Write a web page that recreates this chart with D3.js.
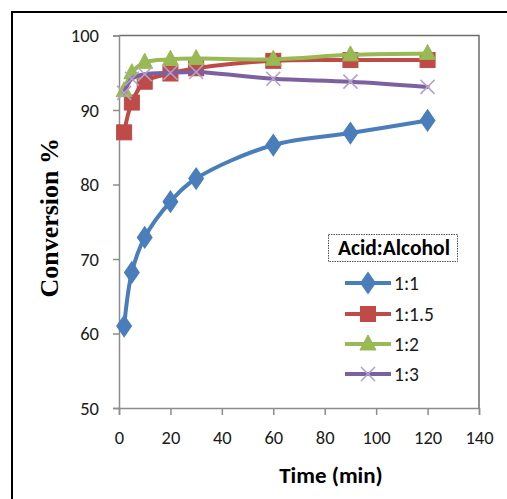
<!DOCTYPE html>
<html><head><meta charset="utf-8">
<script src="https://cdn.jsdelivr.net/npm/d3@7"></script>
<style>
html,body{margin:0;padding:0;background:#fff;}
svg{display:block;}
</style></head>
<body>
<script>
const time = [2, 5, 10, 20, 30, 60, 90, 120];
const ratio11 = [61.0, 68.2, 72.9, 77.7, 80.8, 85.3, 86.9, 88.6];
const ratio115 = [87.0, 91.0, 93.8, 94.9, 95.6, 96.6, 96.7, 96.7];
const ratio12 = [92.6, 95.0, 96.4, 96.8, 96.9, 96.8, 97.4, 97.6];
const ratio13 = [92.3, 94.2, 94.8, 95.0, 95.1, 94.2, 93.8, 93.1];
const seriesNames = ["1:1", "1:1.5", "1:2", "1:3"];
const xTicks = [0, 20, 40, 60, 80, 100, 120, 140];
const yTicks = [50, 60, 70, 80, 90, 100];

const W = 507, H = 499;
const font = "Carlito, Calibri, Lato, 'Open Sans', sans-serif";
const svg = d3.select("body").append("svg").attr("width", W).attr("height", H);
svg.append("rect").attr("width", W).attr("height", H).attr("fill", "#fff");
// outer frame
svg.append("rect").attr("x", 12).attr("y", 12).attr("width", 700).attr("height", 700)
  .attr("fill", "none").attr("stroke", "#000").attr("stroke-width", 2);

const xs = d3.scaleLinear().domain([0, 140]).range([119, 479]);
const ys = d3.scaleLinear().domain([50, 100]).range([408, 35.5]);

// plot border (top & right)
svg.append("path").attr("d", `M${xs(0)},${ys(100)}H${xs(140)}V${ys(50)}`)
  .attr("fill", "none").attr("stroke", "#6d6d6d").attr("stroke-width", 1.5);

const gx = svg.append("g").attr("transform", `translate(0,${ys(50)})`)
  .call(d3.axisBottom(xs).tickValues(xTicks).tickSize(7).tickPadding(16));
const gy = svg.append("g").attr("transform", `translate(${xs(0)},0)`)
  .call(d3.axisLeft(ys).tickValues(yTicks).tickSize(6).tickPadding(14));
[gx, gy].forEach(g => {
  g.select(".domain").attr("stroke", "#8c8c8c").attr("stroke-width", 1.5);
  g.selectAll(".tick line").attr("stroke", "#8c8c8c").attr("stroke-width", 1.5);
  g.selectAll(".tick text").attr("fill", "#1a1a1a").style("font-family", font).style("font-size", "18.5px");
});
gy.selectAll(".tick text").attr("dy", "0.35em");

const colors = ["#4A7EBB", "#BE4B48", "#98B954", "#7D60A0"];
const data = [ratio11, ratio115, ratio12, ratio13];
const line = d3.line().x((d, i) => xs(time[i])).y(d => ys(d)).curve(d3.curveCatmullRom.alpha(0.5));

function marker(g, k, cx, cy) {
  if (k === 0) {
    g.append("path").attr("d", d3.symbol(d3.symbolDiamond, 130)()).attr("transform", `translate(${cx},${cy}) scale(1.2,1)`)
      .attr("fill", colors[0]).attr("stroke", colors[0]);
  } else if (k === 1) {
    g.append("rect").attr("x", cx - 7.5).attr("y", cy - 7.5).attr("width", 15).attr("height", 15)
      .attr("fill", colors[1]).attr("stroke", colors[1]);
  } else if (k === 2) {
    g.append("path").attr("d", `M${cx},${cy - 9}L${cx + 8},${cy + 6}L${cx - 8},${cy + 6}Z`)
      .attr("fill", colors[2]).attr("stroke", colors[2]);
  } else {
    g.append("path").attr("d", `M${cx - 7},${cy - 7}L${cx + 7},${cy + 7}M${cx - 7},${cy + 7}L${cx + 7},${cy - 7}`)
      .attr("stroke", "#B4A2CC").attr("stroke-width", 1.6).attr("fill", "none");
  }
}

data.forEach((vals, k) => {
  const g = svg.append("g");
  g.append("path").attr("d", line(vals)).attr("fill", "none").attr("stroke", colors[k])
    .attr("stroke-width", 4).attr("stroke-linejoin", "round").attr("stroke-linecap", "round");
  vals.forEach((v, i) => marker(g, k, xs(time[i]), ys(v)));
});

// legend
svg.append("rect").attr("x", 328.5).attr("y", 234.5).attr("width", 129).attr("height", 27)
  .attr("fill", "none").attr("stroke", "#555").attr("stroke-width", 1).attr("stroke-dasharray", "1.5,1");
svg.append("text").attr("x", 394).attr("y", 255).attr("text-anchor", "middle")
  .style("font-family", font).style("font-size", "21.5px").style("font-weight", "bold").attr("fill", "#000")
  .text("Acid:Alcohol");
const legY = [283, 314, 344, 374];
seriesNames.forEach((name, k) => {
  const g = svg.append("g");
  g.append("line").attr("x1", 345).attr("x2", 391).attr("y1", legY[k]).attr("y2", legY[k])
    .attr("stroke", colors[k]).attr("stroke-width", 4);
  marker(g, k, 368, legY[k]);
  g.append("text").attr("x", 394).attr("y", legY[k]).attr("dy", "0.35em")
    .style("font-family", font).style("font-size", "19.5px").attr("fill", "#1a1a1a").text(name);
});

// axis titles
svg.append("text").attr("x", 331).attr("y", 483).attr("text-anchor", "middle")
  .style("font-family", font).style("font-size", "23px").style("font-weight", "bold").attr("fill", "#000")
  .text("Time (min)");
svg.append("text").attr("transform", `translate(58,${ys(75) - 4}) rotate(-90)`).attr("text-anchor", "middle")
  .style("font-family", "'Liberation Serif', 'Times New Roman', serif").style("font-size", "26px")
  .style("font-weight", "bold").attr("fill", "#000").text("Conversion %");
</script>
</body></html>
